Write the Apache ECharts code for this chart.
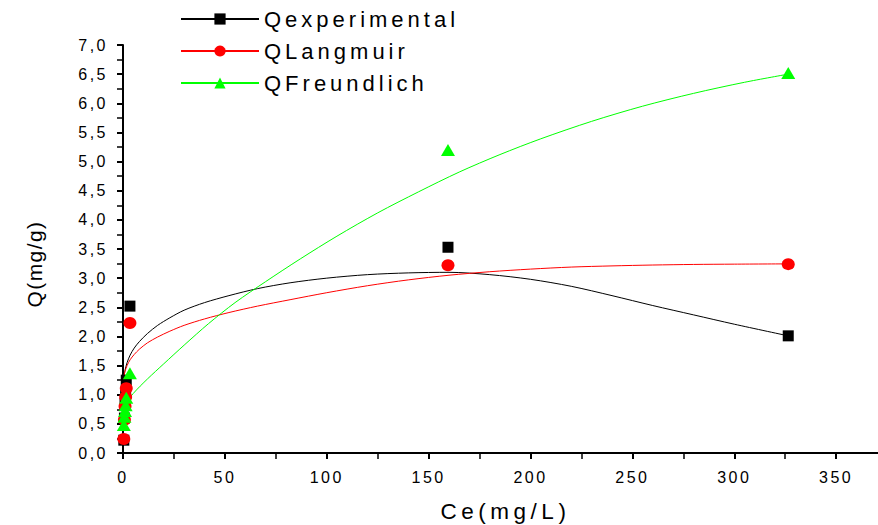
<!DOCTYPE html>
<html>
<head>
<meta charset="utf-8">
<script src="https://cdn.jsdelivr.net/npm/echarts@6/dist/echarts.min.js"></script>
<style>
  html, body { margin: 0; padding: 0; background: #fff; }
  #chart { width: 878px; height: 525px; }
  /* wide letter spacing of the original plotting software */
  #chart text[style*="16px"] { letter-spacing: 2.5px; }
  #chart text[style*="22px"] { letter-spacing: 4px; }
  #chart text[style*="22.5px"] { letter-spacing: 4.5px; }
  #chart text[style*="21px"] { letter-spacing: 1.4px; }
</style>
</head>
<body>
<div id="chart"></div>
<script>
// Measured equilibrium points: Ce (mg/L) and adsorbed amount Q (mg/g)
const ceData        = [0.4, 0.7, 1.0, 1.3, 1.6, 3.4, 159.5, 326.5];
const qExperimental = [0.22, 0.60, 0.85, 1.02, 1.25, 2.52, 3.53, 2.01];
const qLangmuir     = [0.24, 0.57, 0.80, 0.96, 1.11, 2.23, 3.22, 3.24];
const qFreundlich   = [0.48, 0.62, 0.72, 0.82, 0.95, 1.37, 5.20, 6.52];

// Fitted curves
const ceFitExp  = [0.3, 1, 2, 3.5, 5.5, 8, 12, 17, 23, 30, 40, 52, 66, 82, 100, 120, 140, 160, 180, 200, 220, 240, 260, 280, 300, 326.5];
const qFitExp   = [1.28, 1.42, 1.55, 1.68, 1.80, 1.91, 2.05, 2.19, 2.32, 2.45, 2.58, 2.70, 2.82, 2.92, 3.00, 3.06, 3.09, 3.10, 3.06, 2.98, 2.86, 2.70, 2.53, 2.37, 2.21, 2.01];
const ceFitLang = [0.3, 1, 2, 3.5, 5.5, 8, 12, 17, 23, 30, 40, 52, 66, 82, 100, 120, 140, 160, 180, 200, 220, 240, 260, 280, 300, 326.5];
const qFitLang  = [1.30, 1.40, 1.50, 1.60, 1.69, 1.78, 1.89, 1.99, 2.09, 2.19, 2.30, 2.41, 2.52, 2.63, 2.75, 2.87, 2.97, 3.05, 3.11, 3.155, 3.19, 3.21, 3.225, 3.235, 3.24, 3.245];
const ceFitFreu = [0.3, 5, 12, 20, 30, 42, 55, 70, 87, 105, 125, 145, 165, 185, 205, 230, 255, 280, 305, 326.5];
const qFitFreu  = [0.80, 1.02, 1.27, 1.53, 1.85, 2.22, 2.58, 2.94, 3.33, 3.72, 4.12, 4.48, 4.82, 5.12, 5.39, 5.69, 5.95, 6.17, 6.36, 6.50];

const seriesNames = ['Qexperimental', 'QLangmuir', 'QFreundlich'];
const FONT = '"Liberation Sans", Arial, sans-serif';

const pairs = (xs, ys) => xs.map((x, i) => [x, ys[i]]);

const styles = [
  { color: '#000000', symbol: 'rect',     size: 11 },
  { color: '#ff0000', symbol: 'circle',   size: [13, 12] },
  { color: '#00ff00', symbol: 'triangle', size: [14, 12] }
];
const fits = [pairs(ceFitExp, qFitExp), pairs(ceFitLang, qFitLang), pairs(ceFitFreu, qFitFreu)];
const points = [pairs(ceData, qExperimental), pairs(ceData, qLangmuir), pairs(ceData, qFreundlich)];

const series = [];
seriesNames.forEach((name, i) => {
  series.push({
    type: 'line', name, data: fits[i], smooth: 0.3,
    symbol: styles[i].symbol, showSymbol: false, silent: true,
    lineStyle: { color: styles[i].color, width: 1 },
    itemStyle: { color: styles[i].color }, z: 2
  });
});
seriesNames.forEach((name, i) => {
  series.push({
    type: 'scatter', name, data: points[i],
    symbol: styles[i].symbol, symbolSize: styles[i].size,
    itemStyle: { color: styles[i].color, opacity: 1 }, z: 3 + i
  });
});

const tickStyle = { color: '#000', width: 2 };
const chart = echarts.init(document.getElementById('chart'), null, { renderer: 'svg' });
chart.setOption({
  animation: false,
  backgroundColor: '#fff',
  grid: { left: 123, top: 45, bottom: 72, right: -60, outerBoundsMode: 'none', containLabel: false },
  legend: {
    data: seriesNames, orient: 'vertical', left: 180, top: 8, padding: 0,
    itemWidth: 78, itemHeight: 14, itemGap: 10,
    textStyle: { fontSize: 22, color: '#000', fontFamily: FONT }
  },
  xAxis: {
    type: 'value', min: 0, max: 400, interval: 50,
    axisLine: { lineStyle: tickStyle },
    axisTick: { length: 6, lineStyle: tickStyle },
    minorTick: { show: true, splitNumber: 2, length: 6, lineStyle: { color: '#000', width: 1.5 } },
    splitLine: { show: false },
    axisLabel: {
      fontSize: 16, color: '#000', margin: 16, fontFamily: FONT,
      formatter: v => (v <= 350 ? String(v) : '')
    },
    name: 'Ce(mg/L)', nameLocation: 'middle', nameGap: 47,
    nameTextStyle: { fontSize: 22.5, color: '#000', fontFamily: FONT, padding: [0, 50, 0, 0] }
  },
  yAxis: {
    type: 'value', min: 0, max: 7, interval: 0.5,
    axisLine: { lineStyle: tickStyle },
    axisTick: { length: 6, lineStyle: tickStyle },
    minorTick: { show: true, splitNumber: 2, length: 6, lineStyle: { color: '#000', width: 1.5 } },
    splitLine: { show: false },
    axisLabel: {
      fontSize: 16, color: '#000', margin: 15, fontFamily: FONT,
      formatter: v => v.toFixed(1).replace('.', ',')
    },
    name: 'Q(mg/g)', nameLocation: 'middle', nameGap: 78,
    nameTextStyle: { fontSize: 21, color: '#000', fontFamily: FONT, padding: [0, 30, 0, 0] }
  },
  series
});
</script>
</body>
</html>
